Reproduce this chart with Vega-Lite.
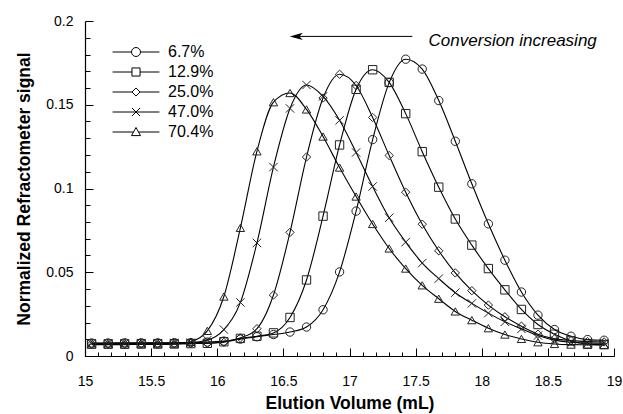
{
  "$schema": "https://vega.github.io/schema/vega-lite/v6.json",
  "width": 529,
  "height": 335,
  "autosize": {"type": "none"},
  "padding": {"left": 85, "top": 21, "right": 9, "bottom": 58},
  "background": "white",
  "config": {"view": {"stroke": null}, "font": "Liberation Sans"},
  "datasets": {
    "curves": [
      {"series":"6.7%","volume":15.05,"signal":0.0078},{"series":"6.7%","volume":15.175,"signal":0.0078},{"series":"6.7%","volume":15.3,"signal":0.0079},{"series":"6.7%","volume":15.425,"signal":0.0079},{"series":"6.7%","volume":15.55,"signal":0.0079},{"series":"6.7%","volume":15.675,"signal":0.008},{"series":"6.7%","volume":15.8,"signal":0.008},{"series":"6.7%","volume":15.925,"signal":0.0083},{"series":"6.7%","volume":16.05,"signal":0.0089},{"series":"6.7%","volume":16.175,"signal":0.0101},{"series":"6.7%","volume":16.3,"signal":0.0115},{"series":"6.7%","volume":16.425,"signal":0.0128},{"series":"6.7%","volume":16.55,"signal":0.0143},{"series":"6.7%","volume":16.675,"signal":0.0173},{"series":"6.7%","volume":16.8,"signal":0.0276},{"series":"6.7%","volume":16.925,"signal":0.0502},{"series":"6.7%","volume":17.05,"signal":0.0865},{"series":"6.7%","volume":17.175,"signal":0.1292},{"series":"6.7%","volume":17.3,"signal":0.1632},{"series":"6.7%","volume":17.425,"signal":0.1772},{"series":"6.7%","volume":17.55,"signal":0.1713},{"series":"6.7%","volume":17.675,"signal":0.1525},{"series":"6.7%","volume":17.8,"signal":0.1282},{"series":"6.7%","volume":17.925,"signal":0.1028},{"series":"6.7%","volume":18.05,"signal":0.0789},{"series":"6.7%","volume":18.175,"signal":0.0572},{"series":"6.7%","volume":18.3,"signal":0.0382},{"series":"6.7%","volume":18.425,"signal":0.0244},{"series":"6.7%","volume":18.55,"signal":0.0158},{"series":"6.7%","volume":18.675,"signal":0.0118},{"series":"6.7%","volume":18.8,"signal":0.0098},{"series":"6.7%","volume":18.925,"signal":0.0094},
      {"series":"12.9%","volume":15.05,"signal":0.0072},{"series":"12.9%","volume":15.175,"signal":0.0072},{"series":"12.9%","volume":15.3,"signal":0.0072},{"series":"12.9%","volume":15.425,"signal":0.0073},{"series":"12.9%","volume":15.55,"signal":0.0073},{"series":"12.9%","volume":15.675,"signal":0.0073},{"series":"12.9%","volume":15.8,"signal":0.0074},{"series":"12.9%","volume":15.925,"signal":0.0076},{"series":"12.9%","volume":16.05,"signal":0.0085},{"series":"12.9%","volume":16.175,"signal":0.0105},{"series":"12.9%","volume":16.3,"signal":0.0118},{"series":"12.9%","volume":16.425,"signal":0.0138},{"series":"12.9%","volume":16.55,"signal":0.023},{"series":"12.9%","volume":16.675,"signal":0.0454},{"series":"12.9%","volume":16.8,"signal":0.0835},{"series":"12.9%","volume":16.925,"signal":0.126},{"series":"12.9%","volume":17.05,"signal":0.1592},{"series":"12.9%","volume":17.175,"signal":0.1709},{"series":"12.9%","volume":17.3,"signal":0.1634},{"series":"12.9%","volume":17.425,"signal":0.1447},{"series":"12.9%","volume":17.55,"signal":0.122},{"series":"12.9%","volume":17.675,"signal":0.1008},{"series":"12.9%","volume":17.8,"signal":0.0818},{"series":"12.9%","volume":17.925,"signal":0.0662},{"series":"12.9%","volume":18.05,"signal":0.0522},{"series":"12.9%","volume":18.175,"signal":0.0395},{"series":"12.9%","volume":18.3,"signal":0.0278},{"series":"12.9%","volume":18.425,"signal":0.0188},{"series":"12.9%","volume":18.55,"signal":0.013},{"series":"12.9%","volume":18.675,"signal":0.009},{"series":"12.9%","volume":18.8,"signal":0.0072},{"series":"12.9%","volume":18.925,"signal":0.0068},
      {"series":"25.0%","volume":15.05,"signal":0.0072},{"series":"25.0%","volume":15.175,"signal":0.0072},{"series":"25.0%","volume":15.3,"signal":0.0072},{"series":"25.0%","volume":15.425,"signal":0.0072},{"series":"25.0%","volume":15.55,"signal":0.0072},{"series":"25.0%","volume":15.675,"signal":0.0073},{"series":"25.0%","volume":15.8,"signal":0.0074},{"series":"25.0%","volume":15.925,"signal":0.0076},{"series":"25.0%","volume":16.05,"signal":0.0082},{"series":"25.0%","volume":16.175,"signal":0.0108},{"series":"25.0%","volume":16.3,"signal":0.0163},{"series":"25.0%","volume":16.425,"signal":0.0364},{"series":"25.0%","volume":16.55,"signal":0.0738},{"series":"25.0%","volume":16.675,"signal":0.1188},{"series":"25.0%","volume":16.8,"signal":0.154},{"series":"25.0%","volume":16.925,"signal":0.1682},{"series":"25.0%","volume":17.05,"signal":0.1615},{"series":"25.0%","volume":17.175,"signal":0.1424},{"series":"25.0%","volume":17.3,"signal":0.1197},{"series":"25.0%","volume":17.425,"signal":0.0978},{"series":"25.0%","volume":17.55,"signal":0.0787},{"series":"25.0%","volume":17.675,"signal":0.0628},{"series":"25.0%","volume":17.8,"signal":0.0496},{"series":"25.0%","volume":17.925,"signal":0.039},{"series":"25.0%","volume":18.05,"signal":0.0304},{"series":"25.0%","volume":18.175,"signal":0.0234},{"series":"25.0%","volume":18.3,"signal":0.0178},{"series":"25.0%","volume":18.425,"signal":0.013},{"series":"25.0%","volume":18.55,"signal":0.0102},{"series":"25.0%","volume":18.675,"signal":0.0092},{"series":"25.0%","volume":18.8,"signal":0.0086},{"series":"25.0%","volume":18.925,"signal":0.0084},
      {"series":"47.0%","volume":15.05,"signal":0.0076},{"series":"47.0%","volume":15.175,"signal":0.0076},{"series":"47.0%","volume":15.3,"signal":0.0076},{"series":"47.0%","volume":15.425,"signal":0.0077},{"series":"47.0%","volume":15.55,"signal":0.0077},{"series":"47.0%","volume":15.675,"signal":0.0078},{"series":"47.0%","volume":15.8,"signal":0.008},{"series":"47.0%","volume":15.925,"signal":0.0095},{"series":"47.0%","volume":16.05,"signal":0.0158},{"series":"47.0%","volume":16.175,"signal":0.032},{"series":"47.0%","volume":16.3,"signal":0.0675},{"series":"47.0%","volume":16.425,"signal":0.1128},{"series":"47.0%","volume":16.55,"signal":0.1478},{"series":"47.0%","volume":16.675,"signal":0.1618},{"series":"47.0%","volume":16.8,"signal":0.155},{"series":"47.0%","volume":16.925,"signal":0.1407},{"series":"47.0%","volume":17.05,"signal":0.1215},{"series":"47.0%","volume":17.175,"signal":0.1012},{"series":"47.0%","volume":17.3,"signal":0.0825},{"series":"47.0%","volume":17.425,"signal":0.068},{"series":"47.0%","volume":17.55,"signal":0.0555},{"series":"47.0%","volume":17.675,"signal":0.0462},{"series":"47.0%","volume":17.8,"signal":0.0378},{"series":"47.0%","volume":17.925,"signal":0.0314},{"series":"47.0%","volume":18.05,"signal":0.0256},{"series":"47.0%","volume":18.175,"signal":0.0204},{"series":"47.0%","volume":18.3,"signal":0.0162},{"series":"47.0%","volume":18.425,"signal":0.0122},{"series":"47.0%","volume":18.55,"signal":0.0095},{"series":"47.0%","volume":18.675,"signal":0.0082},{"series":"47.0%","volume":18.8,"signal":0.0078},{"series":"47.0%","volume":18.925,"signal":0.0076},
      {"series":"70.4%","volume":15.05,"signal":0.0068},{"series":"70.4%","volume":15.175,"signal":0.0068},{"series":"70.4%","volume":15.3,"signal":0.0068},{"series":"70.4%","volume":15.425,"signal":0.0069},{"series":"70.4%","volume":15.55,"signal":0.0069},{"series":"70.4%","volume":15.675,"signal":0.007},{"series":"70.4%","volume":15.8,"signal":0.0085},{"series":"70.4%","volume":15.925,"signal":0.015},{"series":"70.4%","volume":16.05,"signal":0.0355},{"series":"70.4%","volume":16.175,"signal":0.0765},{"series":"70.4%","volume":16.3,"signal":0.1222},{"series":"70.4%","volume":16.425,"signal":0.1515},{"series":"70.4%","volume":16.55,"signal":0.157},{"series":"70.4%","volume":16.675,"signal":0.1472},{"series":"70.4%","volume":16.8,"signal":0.131},{"series":"70.4%","volume":16.925,"signal":0.1125},{"series":"70.4%","volume":17.05,"signal":0.0952},{"series":"70.4%","volume":17.175,"signal":0.0788},{"series":"70.4%","volume":17.3,"signal":0.0642},{"series":"70.4%","volume":17.425,"signal":0.0522},{"series":"70.4%","volume":17.55,"signal":0.0422},{"series":"70.4%","volume":17.675,"signal":0.0342},{"series":"70.4%","volume":17.8,"signal":0.0266},{"series":"70.4%","volume":17.925,"signal":0.0214},{"series":"70.4%","volume":18.05,"signal":0.0166},{"series":"70.4%","volume":18.175,"signal":0.0128},{"series":"70.4%","volume":18.3,"signal":0.0102},{"series":"70.4%","volume":18.425,"signal":0.0082},{"series":"70.4%","volume":18.55,"signal":0.0072},{"series":"70.4%","volume":18.675,"signal":0.0068},{"series":"70.4%","volume":18.8,"signal":0.0067},{"series":"70.4%","volume":18.925,"signal":0.0066}
    ]
  },
  "resolve": {"axis": {"x": "independent", "y": "independent"}, "scale": {"shape": "independent"}},
  "layer": [
    {
      "data": {"name": "curves"},
      "mark": {"type": "line", "interpolate": "monotone", "color": "black", "strokeWidth": 1.1},
      "encoding": {
        "x": {"field": "volume", "type": "quantitative",
          "scale": {"domain": [15, 19], "nice": false, "zero": false},
          "axis": {"orient": "bottom", "values": [15, 15.5, 16, 16.5, 17, 17.5, 18, 18.5, 19], "format": "~g", "ticks": true, "tickSize": -8, "tickColor": "black", "tickWidth": 1, "labelPadding": 26, "labelFontSize": 14, "labelFont": "Liberation Sans", "labelColor": "black", "labelOverlap": false, "labelFlush": false, "domainColor": "black", "domainWidth": 1.2, "grid": false,
            "title": "Elution Volume (mL)", "titleFont": "Liberation Sans", "titleFontSize": 17.5, "titleFontWeight": "bold", "titleColor": "black", "titlePadding": 6}},
        "y": {"field": "signal", "type": "quantitative",
          "scale": {"domain": [0, 0.2], "nice": false},
          "axis": {"orient": "left", "values": [0, 0.05, 0.1, 0.15, 0.2], "format": "~g", "ticks": true, "tickSize": -8, "tickColor": "black", "tickWidth": 1, "labelPadding": 20, "labelFontSize": 14, "labelFont": "Liberation Sans", "labelColor": "black", "labelOverlap": false, "labelFlush": false, "domainColor": "black", "domainWidth": 1.2, "grid": false,
            "title": "Normalized Refractometer signal", "titleFont": "Liberation Sans", "titleFontSize": 17.5, "titleFontWeight": "bold", "titleColor": "black", "titlePadding": 12}},
        "detail": {"field": "series"}
      }
    },
    {
      "data": {"name": "curves"},
      "mark": {"type": "point", "filled": false, "stroke": "#222", "strokeWidth": 1, "size": 70, "opacity": 1},
      "encoding": {
        "x": {"field": "volume", "type": "quantitative",
          "axis": {"orient": "bottom", "values": [15.1,15.2,15.3,15.4,15.6,15.7,15.8,15.9,16.1,16.2,16.3,16.4,16.6,16.7,16.8,16.9,17.1,17.2,17.3,17.4,17.6,17.7,17.8,17.9,18.1,18.2,18.3,18.4,18.6,18.7,18.8,18.9], "labels": false, "domain": false, "grid": false, "title": null, "ticks": true, "tickSize": -4, "tickColor": "black", "tickWidth": 1}},
        "y": {"field": "signal", "type": "quantitative",
          "axis": {"orient": "left", "values": [0.01,0.02,0.03,0.04,0.06,0.07,0.08,0.09,0.11,0.12,0.13,0.14,0.16,0.17,0.18,0.19], "labels": false, "domain": false, "grid": false, "title": null, "ticks": true, "tickSize": -5, "tickColor": "black", "tickWidth": 1}},
        "shape": {"field": "series", "type": "nominal",
          "scale": {"domain": ["6.7%", "12.9%", "25.0%", "47.0%", "70.4%"], "range": ["circle", "square", "diamond", "M-1,-1L1,1M-1,1L1,-1", "triangle-up"]},
          "legend": null}
      }
    },
    {
      "data": {"name": "curves"},
      "mark": {"type": "point", "filled": false, "stroke": "black", "strokeWidth": 1, "size": 81, "opacity": 0},
      "encoding": {
        "x": {"field": "volume", "type": "quantitative", "axis": null},
        "y": {"field": "signal", "type": "quantitative", "axis": null},
        "shape": {"field": "series", "type": "nominal",
          "scale": {"domain": ["6.7%", "12.9%", "25.0%", "47.0%", "70.4%"],
            "range": ["M-5.2,0H-1M1,0H5.2M1,0A1,1,0,1,1,-1,0A1,1,0,1,1,1,0", "M-5.2,0H-0.9M0.9,0H5.2M-0.9,-0.9H0.9V0.9H-0.9Z", "M-5.2,0H-0.9M0.9,0H5.2M0,-0.9L0.9,0L0,0.9L-0.9,0Z", "M-5.2,0H5.2M-0.9,-0.9L0.9,0.9M-0.9,0.9L0.9,-0.9", "M-5.2,0H-0.56M0.56,0H5.2M0,-1L1,0.8H-1Z"]},
          "legend": {"orient": "none", "legendX": 43, "legendY": 23, "title": null, "padding": 0, "symbolSize": 81, "symbolOpacity": 1, "symbolStrokeWidth": 1, "symbolStrokeColor": "black", "symbolFillColor": "transparent", "labelFont": "Liberation Sans", "labelFontSize": 16, "labelColor": "black", "labelOffset": 24, "rowPadding": 4}}
      }
    },
    {
      "data": {"values": [{}]},
      "mark": {"type": "rule", "color": "black", "strokeWidth": 1},
      "encoding": {
        "x": {"datum": 16.62, "type": "quantitative", "axis": null},
        "x2": {"datum": 17.475},
        "y": {"datum": 0.1908, "type": "quantitative", "axis": null}
      }
    },
    {
      "data": {"values": [{}]},
      "mark": {"type": "point", "shape": "M0,0L2,-0.55L1.5,0L2,0.55Z", "filled": true, "color": "black", "size": 169, "opacity": 1},
      "encoding": {
        "x": {"datum": 16.548, "type": "quantitative", "axis": null},
        "y": {"datum": 0.1908, "type": "quantitative", "axis": null}
      }
    },
    {
      "data": {"values": [{}]},
      "mark": {"type": "text", "text": "Conversion increasing", "font": "Liberation Sans", "fontSize": 17, "fontStyle": "italic", "align": "left", "baseline": "alphabetic", "color": "black"},
      "encoding": {
        "x": {"datum": 17.598, "type": "quantitative", "axis": null},
        "y": {"datum": 0.1853, "type": "quantitative", "axis": null}
      }
    }
  ]
}
